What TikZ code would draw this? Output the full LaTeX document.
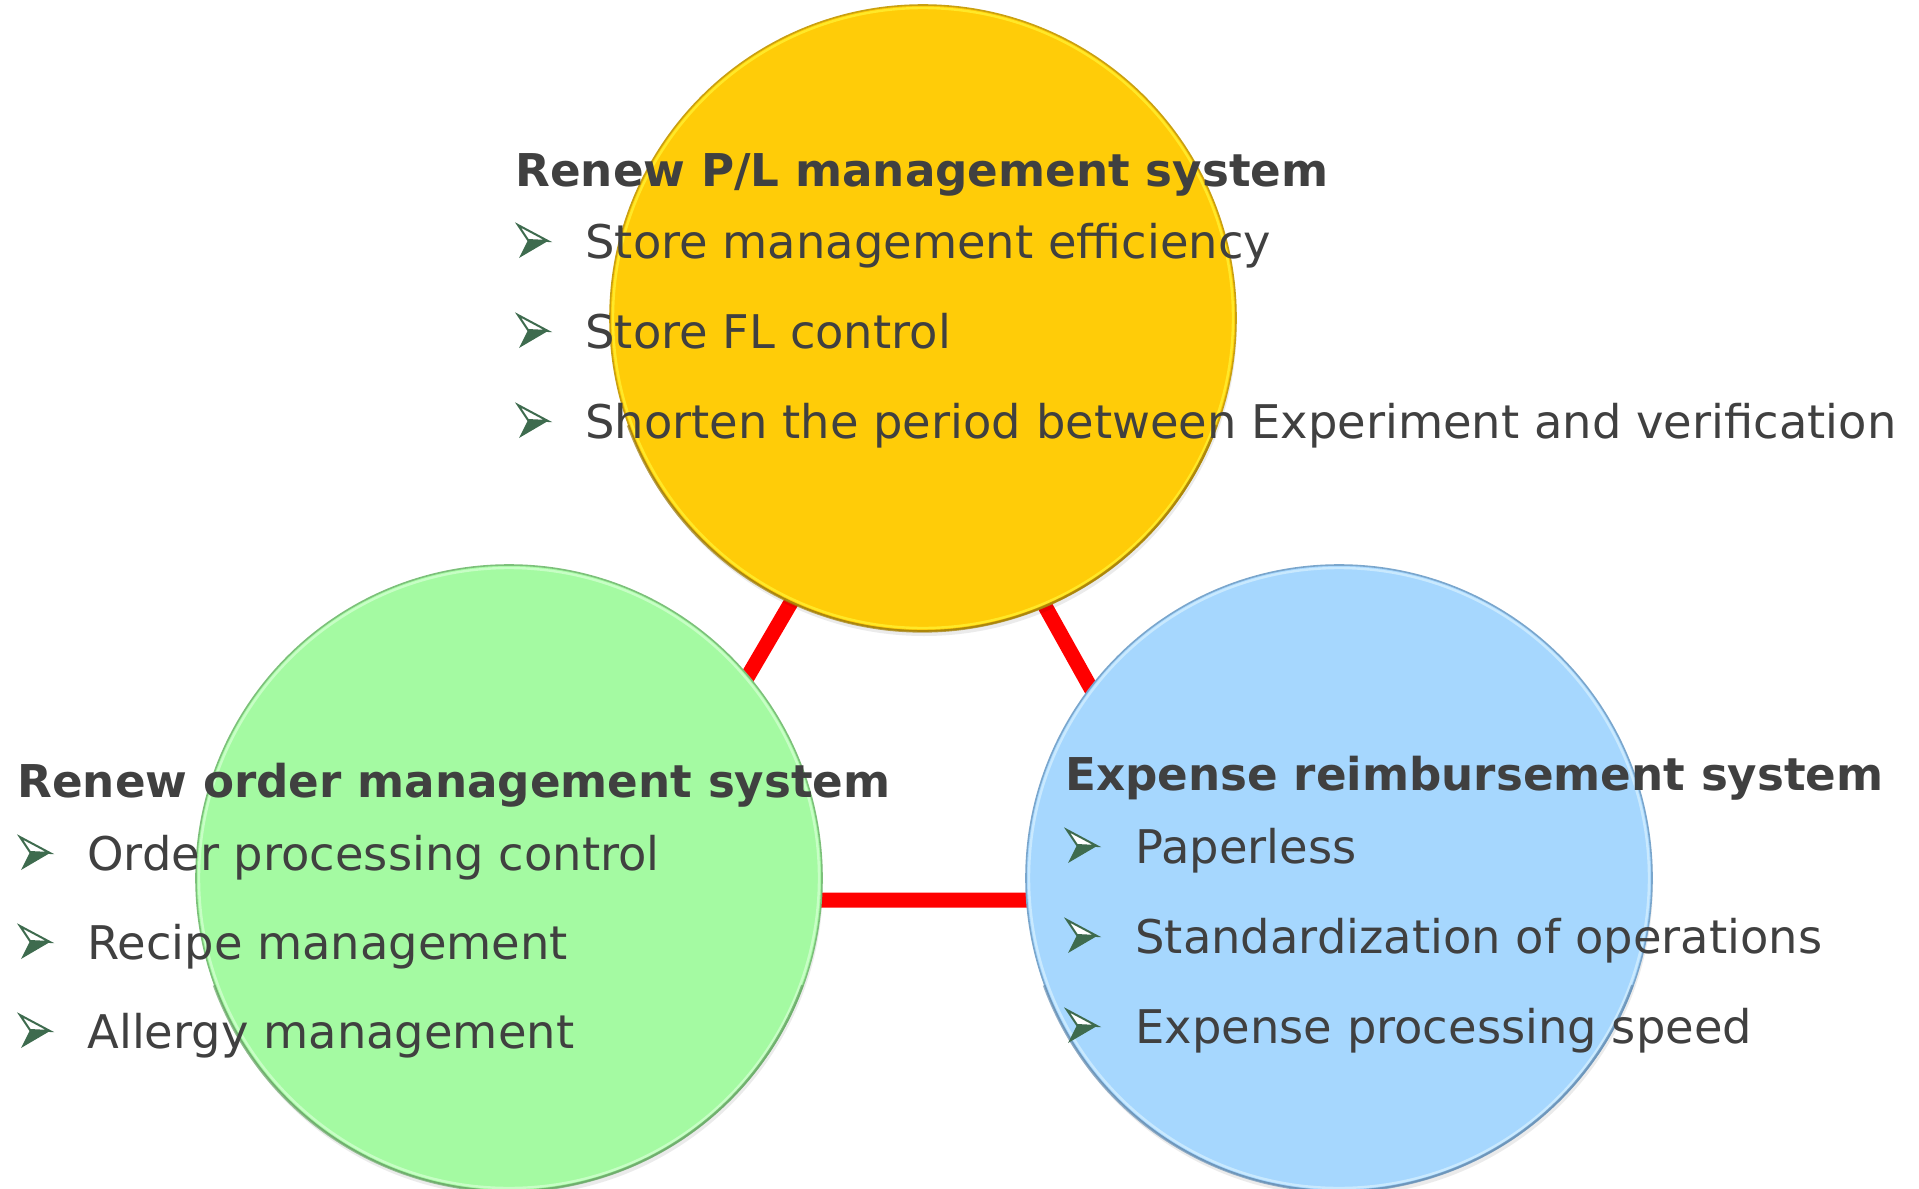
\documentclass[tikz,border=0pt]{standalone}
\usepackage{fontspec}
\setmainfont{DejaVu Sans}
\definecolor{txt}{HTML}{404040}
\definecolor{bulg}{HTML}{3E6B4E}
\definecolor{yelf}{HTML}{FFCC08}
\definecolor{yelr}{HTML}{FFF030}
\definecolor{yele}{HTML}{C9A010}
\definecolor{yeld}{HTML}{A07C08}
\definecolor{grnf}{HTML}{A4FAA2}
\definecolor{grnr}{HTML}{D0FFCE}
\definecolor{grne}{HTML}{7CC07A}
\definecolor{grnd}{HTML}{6AA868}
\definecolor{bluf}{HTML}{A6D7FE}
\definecolor{blur}{HTML}{D2EEFF}
\definecolor{blue2}{HTML}{7AA6CC}
\definecolor{blud}{HTML}{6890B4}
\definecolor{redl}{HTML}{FF0000}
\tikzset{
  circbase/.style={circle, inner sep=0pt, minimum size=313pt},
  circshadow/.style={circbase, fill=black, opacity=0.08},
  circrim/.style={circle, inner sep=0pt, minimum size=310pt, line width=1.2pt, opacity=0.8},
  redline/.style={draw=redl, line width=7.5pt},
  hd/.style={anchor=base west, inner sep=0pt, text=txt, font=\fontsize{22.6}{28}\selectfont\bfseries},
  bd/.style={anchor=base west, inner sep=0pt, text=txt, font=\fontsize{23.2}{28}\selectfont},
  botarc/.style={line width=1.3pt, opacity=0.7},
  bul/.pic={
    \filldraw[fill=white, draw=bulg, line width=1pt, line join=miter] (0,-33) -- (30,-17) -- (10,-18) -- cycle;
    \fill[bulg] (10,-18) -- (30,-17) -- (1,0) -- cycle;
  }
}
\begin{document}
\begin{tikzpicture}[x=0.5pt,y=-0.5pt]
\useasboundingbox (0,0) rectangle (1919,1189);
\clip (0,0) rectangle (1919,1189);
% red triangle behind circles
\coordinate (ta) at (920,382);
\coordinate (tl) at (617,900);
\coordinate (tr) at (1209,900);
\draw[redline] (ta) -- (tl) -- (tr) -- cycle;
% shadows
\node[circshadow] (shT) at (924,323) {};
\node[circshadow] (shL) at (510,883) {};
\node[circshadow] (shR) at (1340,883) {};
% circles
\node[circbase, fill=yelf, draw=yele, line width=0.8pt] (top) at (923,318) {};
\node[circrim, draw=yelr] (topr) at (923,318) {};
\draw[botarc, yeld] (top.200) arc[start angle=200, end angle=340, radius=156.5pt];
\node[circbase, fill=grnf, draw=grne, line width=0.8pt] (left) at (509,878) {};
\node[circrim, draw=grnr] (leftr) at (509,878) {};
\draw[botarc, grnd] (left.200) arc[start angle=200, end angle=340, radius=156.5pt];
\node[circbase, fill=bluf, draw=blue2, line width=0.8pt] (right) at (1339,878) {};
\node[circrim, draw=blur] (rightr) at (1339,878) {};
\draw[botarc, blud] (right.200) arc[start angle=200, end angle=340, radius=156.5pt];
% top group
\node[hd] (tH) at (515,186) {Renew P/L management system};
\pic at (518,258) {bul};
\node[bd] (t1) at (585,258) {Store management efficiency};
\pic at (518,348) {bul};
\node[bd] (t2) at (585,348) {Store FL control};
\pic at (518,438) {bul};
\node[bd] (t3) at (585,438) {Shorten the period between Experiment and verification};
% left group
\node[hd] (lH) at (17,797) {Renew order management system};
\pic at (20,870) {bul};
\node[bd] (l1) at (87,870) {Order processing control};
\pic at (20,959) {bul};
\node[bd] (l2) at (87,959) {Recipe management};
\pic at (20,1048) {bul};
\node[bd] (l3) at (87,1048) {Allergy management};
% right group
\node[hd] (rH) at (1065,790) {Expense reimbursement system};
\pic at (1067,863) {bul};
\node[bd] (r1) at (1135,863) {Paperless};
\pic at (1067,953) {bul};
\node[bd] (r2) at (1135,953) {Standardization of operations};
\pic at (1067,1043) {bul};
\node[bd] (r3) at (1135,1043) {Expense processing speed};
\end{tikzpicture}
\end{document}
